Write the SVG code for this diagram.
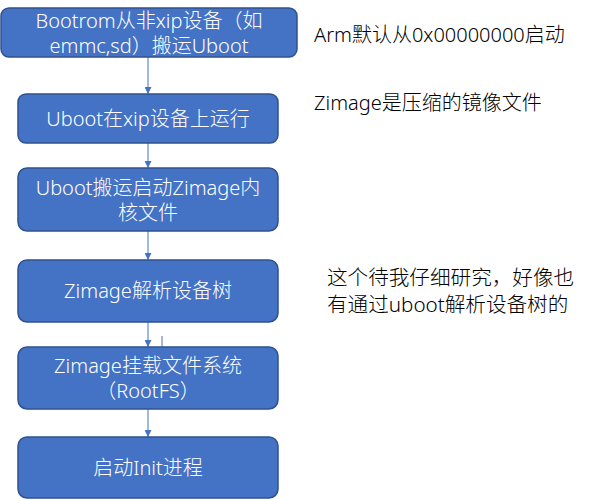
<svg xmlns="http://www.w3.org/2000/svg" width="601" height="500" viewBox="0 0 601 500">
<defs>
<style>
.box{fill:#4472C4;stroke:#2F528F;stroke-width:1.5}
.bt{fill:#ffffff;font-family:"Noto Sans","Noto Sans CJK SC",sans-serif;font-size:20px;font-weight:300;text-anchor:middle}
.nt{fill:#000000;font-family:"Noto Sans","Noto Sans CJK SC",sans-serif;font-size:20px;font-weight:300}
.con{stroke:#4472C4;stroke-width:1;fill:none}
</style>
<marker id="ah" viewBox="0 0 10 10" refX="10" refY="5" markerWidth="7" markerHeight="7" markerUnits="userSpaceOnUse" orient="auto">
<path d="M0,0 L10,5 L0,10 Z" fill="#4472C4"/>
</marker>
</defs>
<rect width="601" height="500" fill="#ffffff"/>
<g id="connectors">
<line class="con" x1="148" y1="57" x2="148" y2="94" marker-end="url(#ah)"/>
<line class="con" x1="148" y1="143" x2="148" y2="168" marker-end="url(#ah)"/>
<line class="con" x1="148" y1="231" x2="148" y2="260" marker-end="url(#ah)"/>
<line class="con" x1="148" y1="322" x2="148" y2="347" marker-end="url(#ah)"/>
<line class="con" x1="148" y1="409" x2="148" y2="437" marker-end="url(#ah)"/>
<line class="con" x1="162" y1="336" x2="162" y2="347"/>
</g>
<g id="node1">
<rect class="box" x="1" y="8" width="296" height="49" rx="8"/>
<text class="bt" x="149" y="28">Bootrom从非xip设备（如</text>
<text class="bt" x="149" y="53">emmc,sd）搬运Uboot</text>
</g>
<g id="node2">
<rect class="box" x="18" y="94" width="260" height="49" rx="8"/>
<text class="bt" x="148" y="126">Uboot在xip设备上运行</text>
</g>
<g id="node3">
<rect class="box" x="18" y="168" width="260" height="63" rx="9"/>
<text class="bt" x="148" y="195">Uboot搬运启动Zimage内</text>
<text class="bt" x="148" y="220">核文件</text>
</g>
<g id="node4">
<rect class="box" x="18" y="260" width="260" height="62" rx="9"/>
<text class="bt" x="148" y="298">Zimage解析设备树</text>
</g>
<g id="node5">
<rect class="box" x="18" y="347" width="260" height="62" rx="9"/>
<text class="bt" x="148" y="373">Zimage挂载文件系统</text>
<text class="bt" x="148" y="398">（RootFS）</text>
</g>
<g id="node6">
<rect class="box" x="18" y="437" width="260" height="61" rx="9"/>
<text class="bt" x="148" y="475">启动Init进程</text>
</g>
<g id="note1">
<text class="nt" x="314" y="42">Arm默认从0x00000000启动</text>
</g>
<g id="note2">
<text class="nt" x="314" y="110">Zimage是压缩的镜像文件</text>
</g>
<g id="note3">
<text class="nt" x="327" y="285" style="font-size:20.6px">这个待我仔细研究，好像也</text>
<text class="nt" x="327" y="312" style="font-size:20.6px">有通过uboot解析设备树的</text>
</g>
</svg>
